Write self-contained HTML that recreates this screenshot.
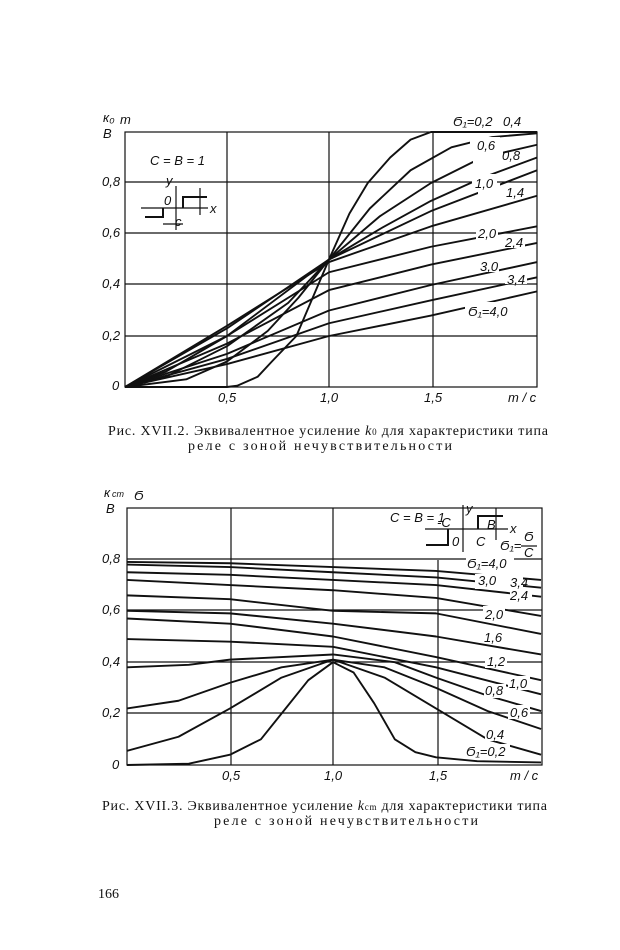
<!DOCTYPE html>
<html><head><meta charset="utf-8"><style>
html,body{margin:0;padding:0;background:#fff;}
svg{display:block}
.t{font-family:"Liberation Sans",sans-serif;font-style:italic;font-size:13px;fill:#111}
.c{font-family:"Liberation Serif",serif;font-size:14px;fill:#111}
.g{stroke:#111;stroke-width:1.2;fill:none}
.k{stroke:#111;stroke-width:1.9;fill:none;stroke-linejoin:round}
</style></head><body>
<svg width="620" height="950" viewBox="0 0 620 950" xmlns="http://www.w3.org/2000/svg">
<!-- Chart 1 -->
<rect x="125" y="132" width="412" height="255" class="g"/>
<g class="g">
<line x1="227" y1="132" x2="227" y2="387"/><line x1="329" y1="132" x2="329" y2="387"/><line x1="433" y1="132" x2="433" y2="387"/>
<line x1="125" y1="336" x2="537" y2="336"/><line x1="125" y1="284" x2="537" y2="284"/><line x1="125" y1="233" x2="537" y2="233"/><line x1="125" y1="182" x2="537" y2="182"/>
</g>
<g transform="translate(125,387) scale(204,-255)">
<g class="k">
<polyline vector-effect="non-scaling-stroke" points="0,0 0.5,0 0.55,0.005 0.65,0.04 0.72,0.1 0.84,0.2 0.92,0.35 1,0.5 1.1,0.68 1.19,0.8 1.3,0.9 1.4,0.97 1.5,1 2.02,1"/>
<polyline vector-effect="non-scaling-stroke" points="0,0 0.3,0.03 0.5,0.1 0.7,0.22 0.85,0.35 1,0.5 1.2,0.7 1.4,0.85 1.6,0.94 1.8,0.98 2.02,0.995"/>
<polyline vector-effect="non-scaling-stroke" points="0,0 0.2,0.04 0.5,0.16 0.8,0.33 1,0.5 1.25,0.67 1.5,0.8 1.75,0.9 2.02,0.95"/>
<polyline vector-effect="non-scaling-stroke" points="0,0 0.2,0.06 0.5,0.2 1,0.5 1.25,0.62 1.5,0.73 1.75,0.82 2.02,0.9"/>
<polyline vector-effect="non-scaling-stroke" points="0,0 0.5,0.23 1,0.5 1.5,0.69 2.02,0.85"/>
<polyline vector-effect="non-scaling-stroke" points="0,0 0.5,0.24 1,0.49 1.5,0.63 2.02,0.75"/>
<polyline vector-effect="non-scaling-stroke" points="0,0 0.5,0.2 1,0.45 1.5,0.55 2.02,0.63"/>
<polyline vector-effect="non-scaling-stroke" points="0,0 0.5,0.17 1,0.38 1.5,0.48 2.02,0.565"/>
<polyline vector-effect="non-scaling-stroke" points="0,0 0.5,0.13 1,0.3 1.5,0.4 2.02,0.49"/>
<polyline vector-effect="non-scaling-stroke" points="0,0 0.5,0.11 1,0.25 1.5,0.34 2.02,0.43"/>
<polyline vector-effect="non-scaling-stroke" points="0,0 0.5,0.09 1,0.2 1.5,0.28 2.02,0.375"/>
</g></g>
<g fill="#fff"><rect x="455" y="113" width="80" height="14"/><rect x="470" y="137" width="30" height="14"/><rect x="473" y="149" width="30" height="14"/><rect x="472" y="174" width="25" height="14"/><rect x="478" y="183" width="22" height="14"/><rect x="476" y="225" width="22" height="14"/><rect x="503" y="234" width="22" height="14"/><rect x="477" y="258" width="22" height="14"/><rect x="505" y="270" width="22" height="14"/><rect x="465" y="302" width="50" height="16"/></g>
<g class="t">
<text x="453" y="126">Ϭ₁=0,2</text><text x="503" y="126">0,4</text>
<text x="477" y="150">0,6</text><text x="502" y="160">0,8</text>
<text x="475" y="188">1,0</text><text x="506" y="197">1,4</text>
<text x="478" y="238">2,0</text><text x="505" y="247">2,4</text>
<text x="480" y="271">3,0</text><text x="507" y="284">3,4</text>
<text x="468" y="316">Ϭ₁=4,0</text>
<text x="103" y="122">к₀</text><text x="103" y="138">B</text><text x="120" y="124">m</text>
<text x="102" y="186">0,8</text><text x="102" y="237">0,6</text><text x="102" y="288">0,4</text><text x="102" y="340">0,2</text><text x="112" y="390">0</text>
<text x="218" y="402">0,5</text><text x="320" y="402">1,0</text><text x="424" y="402">1,5</text><text x="508" y="402">m / c</text>
<text x="150" y="165">C = B = 1</text><text x="166" y="185">y</text><text x="164" y="205">0</text><text x="210" y="213">x</text><text x="175" y="226">c</text>
</g>
<g class="g"><line x1="141" y1="208" x2="208" y2="208"/><line x1="176" y1="186" x2="176" y2="230"/><polyline points="145,217 163,217 163,208" stroke-width="2"/><polyline points="183,208 183,197 207,197" stroke-width="2"/><line x1="200" y1="188" x2="200" y2="215"/><line x1="163" y1="224" x2="183" y2="224"/></g>
<text class="c" x="108" y="435" textLength="440">Рис. XVII.2. Эквивалентное усиление <tspan font-style="italic">k</tspan><tspan font-size="9">0</tspan> для характеристики типа</text>
<text class="c" x="188" y="450" textLength="264">реле с зоной нечувствительности</text>
<!-- Chart 2 -->
<rect x="127" y="508" width="415" height="257" class="g"/>
<g class="g">
<line x1="231" y1="508" x2="231" y2="765"/><line x1="333" y1="508" x2="333" y2="765"/><line x1="438" y1="560" x2="438" y2="765"/>
<line x1="127" y1="713" x2="542" y2="713"/><line x1="127" y1="662" x2="542" y2="662"/><line x1="127" y1="610" x2="542" y2="610"/><line x1="127" y1="559" x2="542" y2="559"/>
</g>
<g transform="translate(127,765) scale(206,-257)">
<g class="k">
<polyline vector-effect="non-scaling-stroke" points="0,0.79 0.5,0.785 1,0.77 1.5,0.755 2.01,0.72"/>
<polyline vector-effect="non-scaling-stroke" points="0,0.78 0.5,0.77 1,0.75 1.5,0.73 2.01,0.69"/>
<polyline vector-effect="non-scaling-stroke" points="0,0.75 0.5,0.74 1,0.72 1.5,0.7 2.01,0.655"/>
<polyline vector-effect="non-scaling-stroke" points="0,0.72 0.5,0.70 1,0.68 1.5,0.65 2.01,0.58"/>
<polyline vector-effect="non-scaling-stroke" points="0,0.66 0.5,0.645 1,0.6 1.5,0.59 2.01,0.51"/>
<polyline vector-effect="non-scaling-stroke" points="0,0.6 0.5,0.59 1,0.55 1.5,0.5 2.01,0.43"/>
<polyline vector-effect="non-scaling-stroke" points="0,0.57 0.5,0.55 1,0.5 1.5,0.42 2.01,0.33"/>
<polyline vector-effect="non-scaling-stroke" points="0,0.49 0.5,0.48 1,0.46 1.5,0.38 2.01,0.275"/>
<polyline vector-effect="non-scaling-stroke" points="0,0.38 0.3,0.39 0.5,0.41 1,0.43 1.3,0.4 1.5,0.34 1.75,0.27 2.01,0.21"/>
<polyline vector-effect="non-scaling-stroke" points="0,0.22 0.25,0.25 0.5,0.32 0.75,0.38 1,0.41 1.25,0.38 1.5,0.3 1.75,0.21 2.01,0.14"/>
<polyline vector-effect="non-scaling-stroke" points="0,0.055 0.25,0.11 0.5,0.22 0.75,0.34 1,0.41 1.25,0.34 1.5,0.22 1.75,0.1 2.01,0.04"/>
<polyline vector-effect="non-scaling-stroke" points="0,0 0.3,0.005 0.5,0.04 0.65,0.1 0.75,0.2 0.88,0.33 1,0.4 1.1,0.36 1.2,0.24 1.3,0.1 1.4,0.05 1.5,0.03 1.7,0.015 2.01,0.01"/>
</g></g>
<g fill="#fff"><rect x="466" y="556" width="48" height="14"/><rect x="475" y="574" width="48" height="15"/><rect x="510" y="589" width="22" height="12"/><rect x="483" y="606" width="22" height="14"/><rect x="482" y="629" width="22" height="14"/><rect x="485" y="654" width="22" height="14"/><rect x="508" y="676" width="22" height="14"/><rect x="484" y="684" width="22" height="14"/><rect x="508" y="705" width="22" height="14"/><rect x="485" y="727" width="22" height="14"/><rect x="465" y="744" width="45" height="14"/></g>
<g class="t">
<text x="467" y="568">Ϭ₁=4,0</text><text x="478" y="585">3,0</text><text x="510" y="587">3,4</text><text x="510" y="600">2,4</text>
<text x="485" y="619">2,0</text><text x="484" y="642">1,6</text><text x="487" y="666">1,2</text>
<text x="509" y="688">1,0</text><text x="485" y="695">0,8</text><text x="510" y="717">0,6</text><text x="486" y="739">0,4</text><text x="466" y="756">Ϭ₁=0,2</text>
<text x="104" y="497">к</text><text x="112" y="497" font-size="9">cm</text><text x="106" y="513">B</text><text x="134" y="500">Ϭ</text>
<text x="102" y="563">0,8</text><text x="102" y="614">0,6</text><text x="102" y="666">0,4</text><text x="102" y="717">0,2</text><text x="112" y="769">0</text>
<text x="222" y="780">0,5</text><text x="324" y="780">1,0</text><text x="429" y="780">1,5</text><text x="510" y="780">m / c</text>
<text x="390" y="522">C = B = 1</text><text x="437" y="527">-C</text><text x="452" y="546">0</text><text x="476" y="546">C</text><text x="466" y="513">y</text><text x="510" y="533">x</text><text x="487" y="529">B</text>
<text x="500" y="550">Ϭ₁=</text><text x="524" y="541">Ϭ</text><text x="524" y="557">C</text>
</g>
<g class="g"><line x1="425" y1="529" x2="508" y2="529"/><line x1="463" y1="505" x2="463" y2="552"/><polyline points="426,545 448,545 448,529" stroke-width="2"/><polyline points="478,529 478,516 503,516" stroke-width="2"/><line x1="496" y1="508" x2="496" y2="540"/><line x1="521" y1="546" x2="537" y2="546"/></g>
<text class="c" x="102" y="810" textLength="445">Рис. XVII.3. Эквивалентное усиление <tspan font-style="italic">k</tspan><tspan font-size="9">cm</tspan> для характеристики типа</text>
<text class="c" x="214" y="825" textLength="264">реле с зоной нечувствительности</text>
<text class="c" x="98" y="898" font-size="14">166</text>
</svg>
</body></html>
